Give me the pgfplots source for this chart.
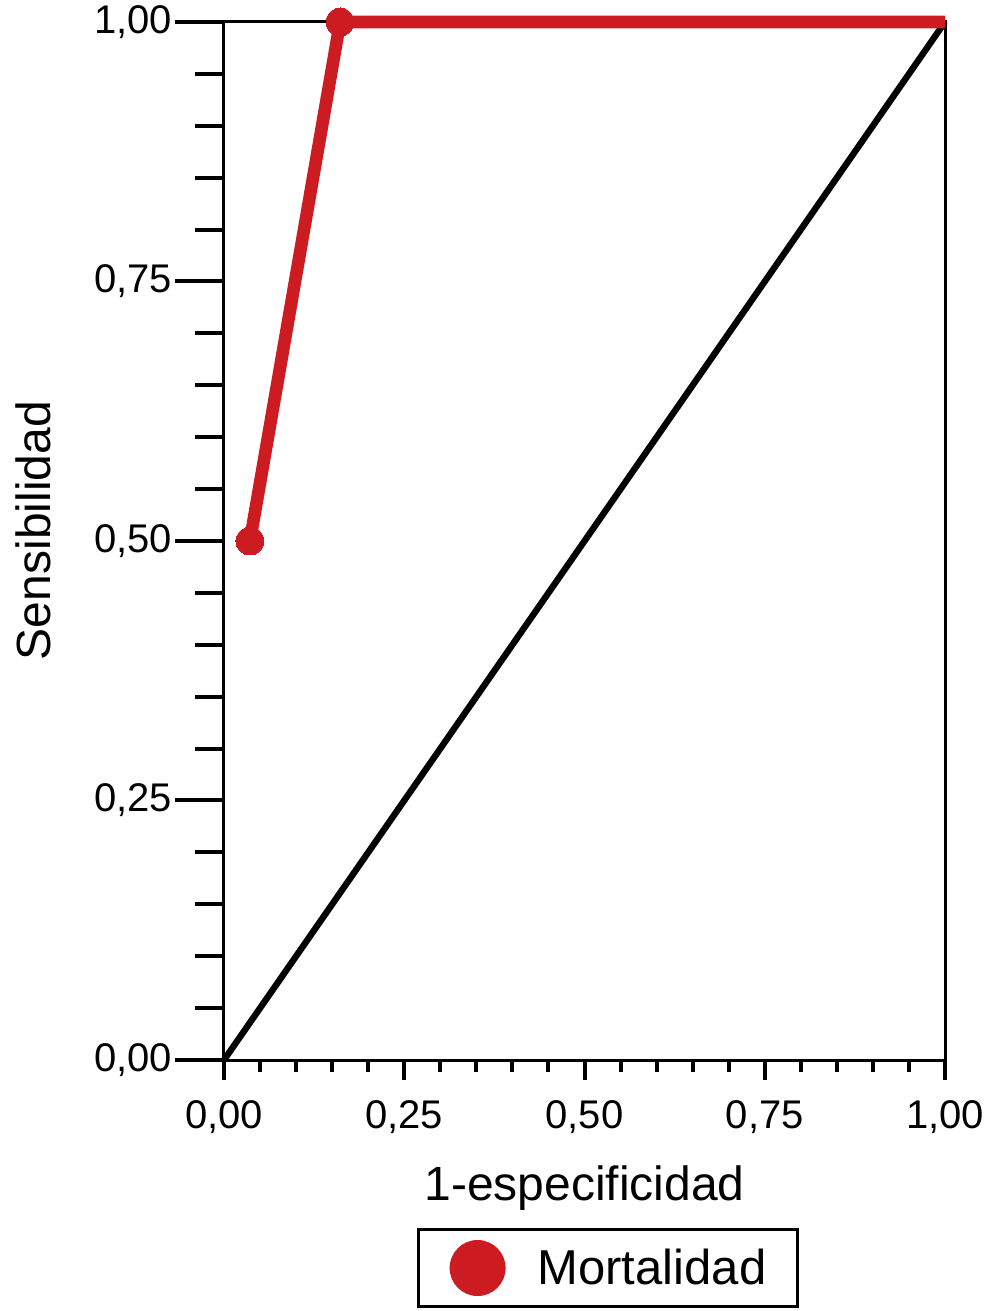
\documentclass[border=0pt]{standalone}
\usepackage{fontspec}
\setmainfont{Liberation Sans}
\usepackage{pgfplots}
\pgfplotsset{compat=1.18}
\definecolor{mred}{RGB}{205,28,33}
\newcommand{\tickfont}{\fontsize{20}{24}\selectfont}
\newcommand{\labfont}{\fontsize{24}{28}\selectfont}
\newcommand{\legfont}{\fontsize{24.5}{28}\selectfont}
\begin{document}
\begin{tikzpicture}
\begin{axis}[
  scale only axis, width=360.5pt, height=519pt,
  xmin=0, xmax=1, ymin=0, ymax=1,
  clip=false,
  axis line style={line width=1.5pt},
  xtick=\empty,
  ytick={0,0.25,0.5,0.75,1},
  yticklabels={{0,00},{0,25},{0,50},{0,75},{1,00}},
  minor ytick={0.05,0.1,0.15,0.2,0.3,0.35,0.4,0.45,0.55,0.6,0.65,0.7,0.8,0.85,0.9,0.95},
  ytick pos=left,
  tick align=outside,
  major tick length=24.5pt,
  minor tick length=14.5pt,
  ytick style={line width=2pt, black},
  yticklabel style={font=\tickfont, xshift=2pt},
  xlabel={1-especificidad},
  ylabel={Sensibilidad},
  label style={font=\labfont},
  xlabel style={at={(axis description cs:0.5,-0.1358)}, anchor=base},
  ylabel style={at={(axis description cs:-0.2413,0.51)}, anchor=base},
  legend style={at={(axis description cs:0.5326,-0.2004)}, anchor=center, draw=black, line width=1.5pt, font=\legfont, inner xsep=15.5pt, inner ysep=5.25pt, nodes={inner sep=0pt}, /tikz/every odd column/.append style={column sep=16pt}},
  legend image code/.code={\fill[mred, draw=none] (14pt,0pt) circle (14pt);},
]
\addplot[black, line width=3.2pt, forget plot] coordinates {(0,0) (1,1)};
\addplot[mred, line width=6.3pt, line cap=butt, mark=*, mark size=7pt, mark indices={1,2}, mark options={solid, fill=mred, draw=mred, line width=0pt}] coordinates {(0.036,0.5) (0.161,1) (1,1)};
\addlegendentry{Mortalidad}
\end{axis}
\begin{axis}[
  scale only axis, width=360.5pt, height=519pt,
  xmin=0, xmax=1, ymin=0, ymax=1,
  hide y axis,
  axis x line*=bottom,
  x axis line style={draw=none},
  xtick={0,0.25,0.5,0.75,1},
  xticklabels={{0,00},{0,25},{0,50},{0,75},{1,00}},
  minor xtick={0.05,0.1,0.15,0.2,0.3,0.35,0.4,0.45,0.55,0.6,0.65,0.7,0.8,0.85,0.9,0.95},
  tick align=outside,
  major tick length=10pt,
  minor tick length=6pt,
  xtick style={line width=2pt, black},
  xticklabel style={font=\tickfont, yshift=-7pt},
]
\end{axis}
\pgfresetboundingbox
\useasboundingbox (-112pt,-125.5pt) rectangle (381pt,530pt);
\end{tikzpicture}
\end{document}
